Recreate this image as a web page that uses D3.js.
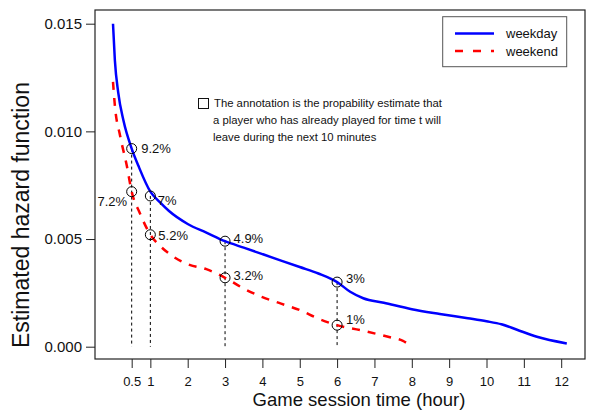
<!DOCTYPE html>
<html>
<head>
<meta charset="utf-8">
<script src="https://cdn.jsdelivr.net/npm/d3@7"></script>
<style>
  body { margin: 0; background: #fff; }
  svg { display: block; font-family: "Liberation Sans", Arial, Helvetica, sans-serif; }
</style>
</head>
<body>
<div id="chart"></div>
<script>
// hazard curves, hours vs estimated hazard
var weekdayT = [0, 0.05, 0.14, 0.28, 0.5, 0.68, 1, 1.26, 1.5, 2, 2.5, 3, 3.5, 4, 4.5, 5, 5.5, 6, 6.35, 6.7, 7.25, 8, 8.75, 9.5, 10, 10.4, 10.8, 11.35, 12.15];
var weekdayV = [0.0150, 0.0133, 0.0118, 0.0105, 0.0092, 0.0084, 0.0072, 0.0067, 0.0063, 0.0057, 0.0053, 0.0049, 0.0046, 0.0043, 0.0040, 0.0037, 0.0034, 0.0030, 0.00255, 0.00225, 0.00204, 0.00174, 0.00152, 0.00132, 0.00118, 0.00104, 0.00080, 0.00046, 0.00015];

var weekendT = [0, 0.05, 0.19, 0.37, 0.5, 0.72, 1, 1.25, 1.6, 2.05, 2.5, 3, 3.5, 4, 4.5, 5, 5.5, 6, 6.65, 7.45, 7.75, 8];
var weekendV = [0.0123, 0.0112, 0.0098, 0.0084, 0.0072, 0.0062, 0.0052, 0.0047, 0.0042, 0.0038, 0.0036, 0.0032, 0.0027, 0.0023, 0.0020, 0.0017, 0.0013, 0.0010, 0.00076, 0.00042, 0.00028, 0.0];

var markT = [0.5, 1, 3, 6];
var weekdayPct = [9.2, 7, 4.9, 3];
var weekendPct = [7.2, 5.2, 3.2, 1];

var xTicks = [0.5, 1, 2, 3, 4, 5, 6, 7, 8, 9, 10, 11, 12];
var yTicks = [0, 0.005, 0.010, 0.015];

var noteLines = [
  "The annotation is the propability estimate that",
  "a player who has already played for time t will",
  "leave during the next 10 minutes"
];

// label nudges (dx, dy) for the % labels
var weekdayNudge = [[9.5, 0], [7.5, 4.5], [8.5, -3], [9, -3.5]];
var weekendNudge = [[-4.5, 9.5], [8, 0.5], [8.5, -2], [9, -6]];

var width = 592, height = 411;
var box = {left: 95, right: 585, top: 10, bottom: 359};

var x = d3.scaleLinear().domain([0, 12]).range([113, 561.2]);
var y = d3.scaleLinear().domain([0, 0.015]).range([346.7, 23.7]);

var svg = d3.select("#chart").append("svg")
  .attr("width", width)
  .attr("height", height);

// dashed drop lines
svg.selectAll(".drop")
  .data(markT)
  .enter()
  .append("line")
  .attr("x1", function(d){ return x(d); })
  .attr("x2", function(d){ return x(d); })
  .attr("y1", function(d, i){ return y(weekdayPct[i] / 1000); })
  .attr("y2", y(0))
  .attr("stroke", "#000")
  .attr("stroke-width", 1)
  .attr("stroke-dasharray", "3,3");

var line = d3.line()
  .x(function(d){ return x(d[0]); })
  .y(function(d){ return y(d[1]); })
  .curve(d3.curveMonotoneX);

svg.append("path")
  .datum(d3.zip(weekendT, weekendV))
  .attr("d", line)
  .attr("fill", "none")
  .attr("stroke", "#ff0000")
  .attr("stroke-width", 2.5)
  .attr("stroke-dasharray", "8,8");

svg.append("path")
  .datum(d3.zip(weekdayT, weekdayV))
  .attr("d", line)
  .attr("fill", "none")
  .attr("stroke", "#0000ff")
  .attr("stroke-width", 2.5);

// circles + labels
var addMarks = function(pcts, nudges){
  var g = svg.append("g");
  g.selectAll("circle")
    .data(pcts)
    .enter()
    .append("circle")
    .attr("cx", function(d, i){ return x(markT[i]); })
    .attr("cy", function(d){ return y(d / 1000); })
    .attr("r", 5)
    .attr("fill", "none")
    .attr("stroke", "#000")
    .attr("stroke-width", 1);
  g.selectAll("text")
    .data(pcts)
    .enter()
    .append("text")
    .attr("x", function(d, i){ return x(markT[i]) + nudges[i][0]; })
    .attr("y", function(d, i){ return y(d / 1000) + nudges[i][1]; })
    .attr("dy", "0.35em")
    .attr("text-anchor", function(d, i){ return nudges[i][0] < 0 ? "end" : "start"; })
    .style("font-size", "13px")
    .attr("fill", "#111")
    .text(function(d){ return d + "%"; });
};
addMarks(weekdayPct, weekdayNudge);
addMarks(weekendPct, weekendNudge);

// plot frame
svg.append("rect")
  .attr("x", box.left)
  .attr("y", box.top)
  .attr("width", box.right - box.left)
  .attr("height", box.bottom - box.top)
  .attr("fill", "none")
  .attr("stroke", "#222")
  .attr("stroke-width", 1.2);

// y axis
var yAxis = svg.append("g").attr("transform", "translate(" + box.left + ",0)")
  .call(d3.axisLeft(y).tickValues(yTicks).tickFormat(d3.format(".3f")).tickSize(9).tickPadding(4));
yAxis.select(".domain").remove();
yAxis.selectAll("line").attr("stroke", "#222");
yAxis.selectAll("text").style("font-size", "15px").attr("fill", "#111")
  .style("font-family", "'Liberation Sans', Arial, sans-serif");

// x axis
var xAxis = svg.append("g").attr("transform", "translate(0," + box.bottom + ")")
  .call(d3.axisBottom(x).tickValues(xTicks).tickFormat(function(d){ return d; }).tickSize(9).tickPadding(9));
xAxis.select(".domain").remove();
xAxis.selectAll("line").attr("stroke", "#222");
xAxis.selectAll("text").style("font-size", "13px").attr("fill", "#111")
  .style("font-family", "'Liberation Sans', Arial, sans-serif");

svg.append("text")
  .attr("x", 359)
  .attr("y", 406)
  .attr("text-anchor", "middle")
  .style("font-size", "18.5px")
  .attr("fill", "#111")
  .text("Game session time (hour)");

svg.append("text")
  .attr("transform", "translate(29,215) rotate(-90)")
  .attr("text-anchor", "middle")
  .style("font-size", "23px")
  .attr("fill", "#111")
  .text("Estimated hazard function");

// legend
var legend = svg.append("g");
legend.append("rect")
  .attr("x", 442.7).attr("y", 16.7)
  .attr("width", 124).attr("height", 50)
  .attr("fill", "#fff")
  .attr("stroke", "#555")
  .attr("stroke-width", 1);
var legendItems = [
  {name: "weekday", color: "#0000ff", dash: null},
  {name: "weekend", color: "#ff0000", dash: "8,10"}
];
legendItems.forEach(function(item, i){
  var ly = 33.5 + i * 17.5;
  legend.append("line")
    .attr("x1", 455).attr("x2", 494)
    .attr("y1", ly).attr("y2", ly)
    .attr("stroke", item.color)
    .attr("stroke-width", 2.5)
    .attr("stroke-dasharray", item.dash);
  legend.append("text")
    .attr("x", 506).attr("y", ly)
    .attr("dy", "0.35em")
    .style("font-size", "13px")
    .attr("fill", "#111")
    .text(item.name);
});

// note
svg.append("rect")
  .attr("x", 198.5).attr("y", 98.5)
  .attr("width", 10).attr("height", 10)
  .attr("fill", "none")
  .attr("stroke", "#111")
  .attr("stroke-width", 1);
svg.selectAll(".note")
  .data(noteLines)
  .enter()
  .append("text")
  .attr("x", function(d, i){ return i === 0 ? 214 : 213; })
  .attr("y", function(d, i){ return 103.5 + i * 16.8; })
  .attr("dy", "0.35em")
  .style("font-size", "11.3px")
  .attr("fill", "#111")
  .text(function(d){ return d; });
</script>
</body>
</html>
